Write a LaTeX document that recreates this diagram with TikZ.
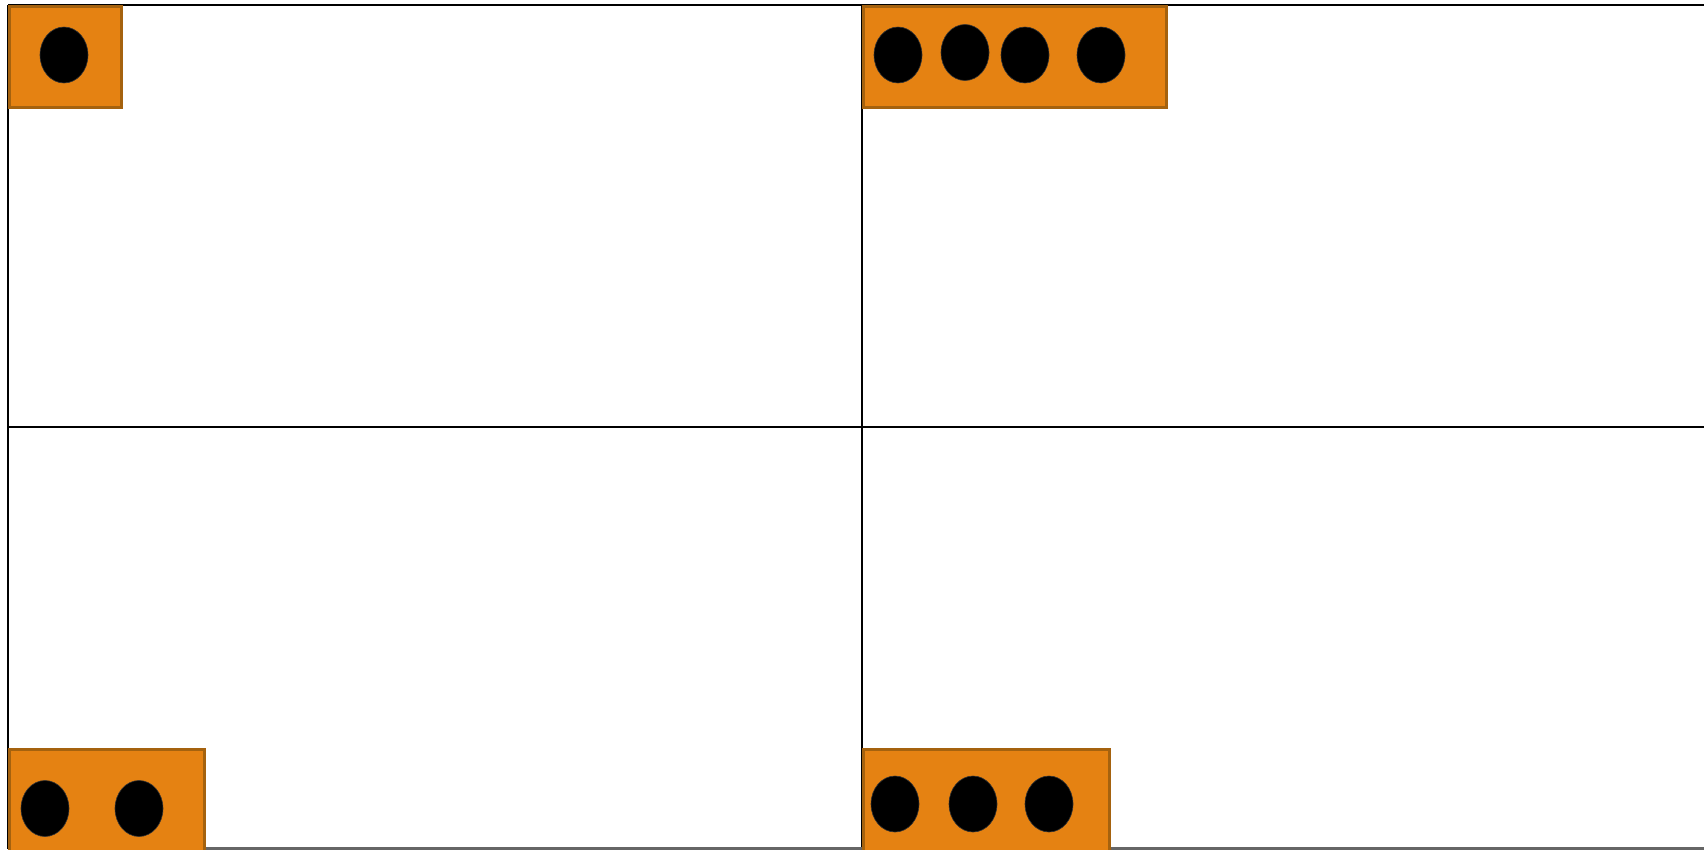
\documentclass[tikz,border=0pt]{standalone}
\usetikzlibrary{shapes.geometric}
\definecolor{lane}{RGB}{229,130,18}
\definecolor{laneedge}{RGB}{165,98,14}
\tikzset{
  gridline/.style={line width=2.2pt,black},
  tray/.style={draw=laneedge,fill=lane,line width=2.5pt,inner sep=0pt,anchor=north west},
  bead/.style={ellipse,fill=black,draw=black!80,line width=0.6pt,inner sep=0pt,minimum width=48pt,minimum height=56pt},
}

\begin{document}
\begin{tikzpicture}[x=1pt,y=-1pt]
  \useasboundingbox (0,0) rectangle (1704,849);
  % frame
  \draw[gridline] (8,5) -- (1710,5);
  \draw[gridline] (8,5) -- (8,849);
  \draw[gridline] (862,5) -- (862,849);
  \draw[gridline] (8,427) -- (1710,427);
  \draw[gridline,black!60] (8,848.5) -- (1710,848.5);
  % trays
  \node[tray,minimum width=112pt,minimum height=101pt] (trayA) at (8,5) {};
  \node[tray,minimum width=303pt,minimum height=101pt] (trayB) at (862,5) {};
  \node[tray,minimum width=195pt,minimum height=110pt] (trayC) at (8,748) {};
  \node[tray,minimum width=246pt,minimum height=110pt] (trayD) at (862,748) {};
  % beads
  \node[bead] (a1) at (64,55) {};
  \foreach \x/\y [count=\i] in {898/55,965/52.5,1025/55,1101/55}
    \node[bead] (b\i) at (\x,\y) {};
  \foreach \x [count=\i] in {45,139}
    \node[bead] (c\i) at (\x,808.5) {};
  \foreach \x [count=\i] in {895,973,1049}
    \node[bead] (d\i) at (\x,804) {};
\end{tikzpicture}
\end{document}
